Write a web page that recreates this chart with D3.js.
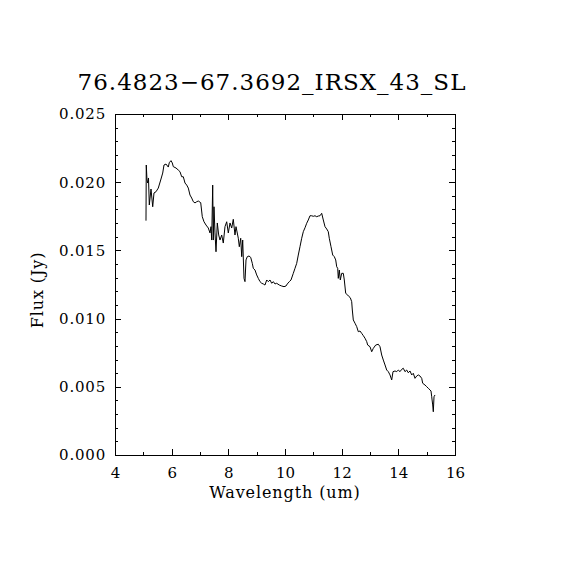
<!DOCTYPE html>
<html>
<head>
<meta charset="utf-8">
<script src="https://cdn.jsdelivr.net/npm/d3@7"></script>
<style>
  body { margin: 0; background: #fff; }
  text { font-family: "DejaVu Serif", serif; fill: #000; }
</style>
</head>
<body>
<div class="canvas"></div>
<script>
// spectrum
const wavelength = [
  5.094, 5.104, 5.129, 5.154, 5.182, 5.211, 5.271, 5.331, 5.376, 5.447,
  5.528, 5.613, 5.684, 5.729, 5.800, 5.881, 5.916, 5.976, 6.022, 6.058,
  6.153, 6.234, 6.294, 6.354, 6.411, 6.471, 6.531, 6.587, 6.647, 6.707,
  6.764, 6.824, 6.884, 6.940, 7.025, 7.081, 7.141, 7.212, 7.293, 7.353,
  7.388, 7.413, 7.448, 7.469, 7.494, 7.529, 7.565, 7.611, 7.660, 7.706,
  7.766, 7.822, 7.882, 7.942, 7.999, 8.059, 8.119, 8.175, 8.235, 8.271,
  8.352, 8.387, 8.437, 8.472, 8.507, 8.553, 8.588, 8.624, 8.669, 8.729,
  8.789, 8.846, 8.881, 8.941, 9.001, 9.058, 9.118, 9.178, 9.234, 9.294,
  9.354, 9.411, 9.471, 9.531, 9.587, 9.647, 9.707, 9.799, 9.884, 9.965,
  10.035, 10.081, 10.152, 10.212, 10.293, 10.353, 10.413, 10.469, 10.529, 10.589,
  10.646, 10.706, 10.766, 10.822, 10.882, 10.942, 10.999, 11.059, 11.119, 11.175,
  11.235, 11.295, 11.352, 11.412, 11.472, 11.528, 11.563, 11.624, 11.684, 11.740,
  11.790, 11.825, 11.860, 11.881, 11.917, 11.952, 12.001, 12.058, 12.093, 12.142,
  12.213, 12.259, 12.305, 12.354, 12.376, 12.411, 12.471, 12.531, 12.587, 12.647,
  12.707, 12.764, 12.824, 12.884, 12.919, 13.000, 13.060, 13.117, 13.201, 13.293,
  13.353, 13.413, 13.470, 13.530, 13.590, 13.646, 13.706, 13.766, 13.812, 13.883,
  13.943, 13.999, 14.059, 14.119, 14.175, 14.235, 14.295, 14.352, 14.412, 14.472,
  14.528, 14.588, 14.648, 14.705, 14.765, 14.825, 14.860, 14.941, 15.001, 15.058,
  15.118, 15.153, 15.178, 15.213, 15.234, 15.259, 15.294
]

const flux = [
  0.01718, 0.02126, 0.02016, 0.01994, 0.02031, 0.01833, 0.01950, 0.01820, 0.01921, 0.01930,
  0.01957, 0.02016, 0.02067, 0.02126, 0.02133, 0.02111, 0.02143, 0.02158, 0.02141, 0.02114,
  0.02104, 0.02089, 0.02077, 0.02040, 0.02040, 0.01994, 0.01979, 0.01957, 0.01906, 0.01884,
  0.01857, 0.01848, 0.01857, 0.01862, 0.01850, 0.01747, 0.01710, 0.01686, 0.01664, 0.01628,
  0.01674, 0.01576, 0.01979, 0.01576, 0.01820, 0.01628, 0.01490, 0.01701, 0.01613, 0.01576,
  0.01613, 0.01554, 0.01674, 0.01710, 0.01628, 0.01701, 0.01664, 0.01728, 0.01613, 0.01674,
  0.01589, 0.01527, 0.01589, 0.01454, 0.01576, 0.01295, 0.01271, 0.01430, 0.01454, 0.01459,
  0.01449, 0.01405, 0.01369, 0.01356, 0.01320, 0.01295, 0.01271, 0.01259, 0.01254, 0.01246,
  0.01283, 0.01271, 0.01283, 0.01259, 0.01271, 0.01254, 0.01259, 0.01246, 0.01239, 0.01234,
  0.01239, 0.01254, 0.01271, 0.01283, 0.01332, 0.01369, 0.01405, 0.01466, 0.01527, 0.01589,
  0.01637, 0.01666, 0.01699, 0.01723, 0.01754, 0.01754, 0.01750, 0.01754, 0.01747, 0.01752,
  0.01754, 0.01772, 0.01723, 0.01674, 0.01657, 0.01637, 0.01589, 0.01527, 0.01466, 0.01454,
  0.01430, 0.01380, 0.01369, 0.01295, 0.01356, 0.01283, 0.01332, 0.01332, 0.01283, 0.01185,
  0.01173, 0.01161, 0.01153, 0.01124, 0.01063, 0.00990, 0.00966, 0.00941, 0.00904, 0.00909,
  0.00892, 0.00875, 0.00856, 0.00831, 0.00806, 0.00794, 0.00757, 0.00782, 0.00806, 0.00812,
  0.00794, 0.00733, 0.00696, 0.00660, 0.00623, 0.00611, 0.00587, 0.00550, 0.00611, 0.00616,
  0.00611, 0.00623, 0.00611, 0.00628, 0.00636, 0.00611, 0.00623, 0.00603, 0.00616, 0.00587,
  0.00599, 0.00562, 0.00579, 0.00587, 0.00579, 0.00562, 0.00526, 0.00513, 0.00501, 0.00489,
  0.00477, 0.00469, 0.00427, 0.00367, 0.00317, 0.00427, 0.00440
]

const xTicks = [4, 6, 8, 10, 12, 14, 16]
const xMinorTicks = [5, 7, 9, 11, 13, 15]
const yTicks = [0.000, 0.005, 0.010, 0.015, 0.020, 0.025]
const yMinorTicks = [0.001, 0.002, 0.003, 0.004, 0.006, 0.007, 0.008, 0.009,
  0.011, 0.012, 0.013, 0.014, 0.016, 0.017, 0.018, 0.019, 0.021, 0.022, 0.023, 0.024]

const title = '76.4823\u221267.3692_IRSX_43_SL'

const width = 570
const height = 570
const margin = { top: 114, right: 115, bottom: 115, left: 115 }
const graphWidth = width - margin.left - margin.right
const graphHeight = height - margin.top - margin.bottom

const svg = d3.select('.canvas').append('svg')
    .attr('width', width)
    .attr('height', height)

const graph = svg.append('g')
    .attr('transform', `translate(${margin.left}, ${margin.top})`)

const x = d3.scaleLinear().domain([4, 16]).range([0, graphWidth])
const y = d3.scaleLinear().domain([0, 0.025]).range([graphHeight, 0])

// frame
graph.append('rect')
    .attr('width', graphWidth)
    .attr('height', graphHeight)
    .attr('fill', 'none')
    .attr('stroke', '#000')
    .attr('shape-rendering', 'crispEdges')

// axes: major ticks with labels, minor ticks, mirrored on top/right
const addAxis = (axis, transform, labels) => {
    const g = graph.append('g')
        .attr('transform', transform)
        .call(axis)
    g.select('.domain').remove()
    g.selectAll('line').attr('shape-rendering', 'crispEdges')
    if (!labels) g.selectAll('text').remove()
    return g
}

const xAxisGroup = addAxis(d3.axisBottom(x).tickValues(xTicks).tickSize(-6).tickPadding(12)
    .tickFormat(d3.format('d')), `translate(0, ${graphHeight})`, true)
addAxis(d3.axisBottom(x).tickValues(xMinorTicks).tickSize(-3), `translate(0, ${graphHeight})`, false)
addAxis(d3.axisTop(x).tickValues(xTicks).tickSize(-6), 'translate(0, 0)', false)
addAxis(d3.axisTop(x).tickValues(xMinorTicks).tickSize(-3), 'translate(0, 0)', false)

const yAxisGroup = addAxis(d3.axisLeft(y).tickValues(yTicks).tickSize(-6).tickPadding(9)
    .tickFormat(d3.format('.3f')), 'translate(0, 0)', true)
addAxis(d3.axisLeft(y).tickValues(yMinorTicks).tickSize(-3), 'translate(0, 0)', false)
addAxis(d3.axisRight(y).tickValues(yTicks).tickSize(-6), `translate(${graphWidth}, 0)`, false)
addAxis(d3.axisRight(y).tickValues(yMinorTicks).tickSize(-3), `translate(${graphWidth}, 0)`, false)

xAxisGroup.selectAll('text')
    .attr('font-size', 15)
    .attr('font-family', '"DejaVu Serif", serif')
    .attr('fill', '#000')
yAxisGroup.selectAll('text')
    .attr('font-size', 15)
    .attr('font-family', '"DejaVu Serif", serif')
    .attr('fill', '#000')
    .attr('letter-spacing', 0.8)

// spectrum line
const points = wavelength.map((w, i) => [w, flux[i]])
graph.append('path')
    .datum(points)
    .attr('fill', 'none')
    .attr('stroke', '#000')
    .attr('stroke-width', 1)
    .attr('d', d3.line().x((d) => x(d[0])).y((d) => y(d[1])))

// labels
svg.append('text')
    .attr('x', 272)
    .attr('y', 90)
    .attr('text-anchor', 'middle')
    .attr('font-size', 23)
    .attr('letter-spacing', 1)
    .text(title)

svg.append('text')
    .attr('x', 285)
    .attr('y', 498)
    .attr('text-anchor', 'middle')
    .attr('font-size', 16)
    .attr('letter-spacing', 0.9)
    .text('Wavelength (um)')

svg.append('text')
    .attr('transform', 'translate(43, 290) rotate(-90)')
    .attr('text-anchor', 'middle')
    .attr('font-size', 16)
    .attr('letter-spacing', 0.9)
    .text('Flux (Jy)')
</script>
</body>
</html>
